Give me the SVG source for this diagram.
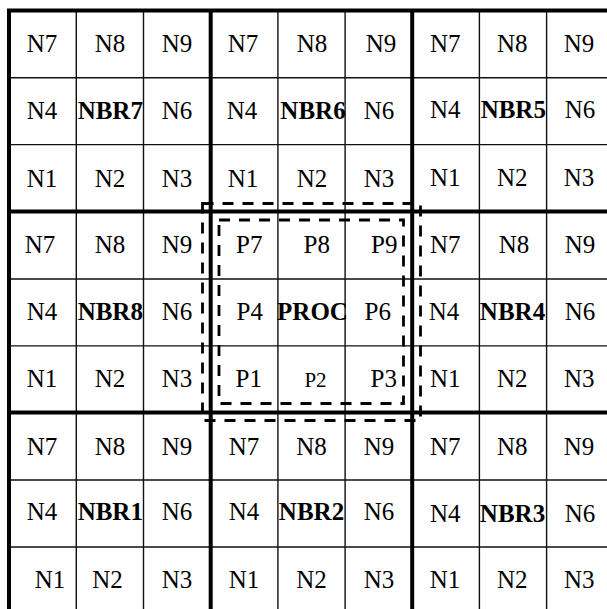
<svg xmlns="http://www.w3.org/2000/svg" width="607" height="609" viewBox="0 0 607 609">
<style>
.t{font-family:"Liberation Serif","Times New Roman",serif;font-size:25px;text-anchor:middle;fill:#000}
.b{font-weight:bold}
.thin{stroke:#111;stroke-width:1.4;fill:none}
.thick{stroke:#000;stroke-width:4;fill:none}
.dash{stroke:#000;stroke-width:2.8;fill:none;stroke-dasharray:11 9}
</style>
<rect width="607" height="609" fill="#fff"/>
<g id="grid">
<path class="thin" d="M76.3 10V609M143.5 10V609M277.9 10V609M345.1 10V609M479.4 10V609M546.6 10V609M9 77.7H607M9 144.6H607M9 279H607M9 345.9H607M9 480H607M9 547H607"/>
<path class="thick" d="M9 8.5V609M210.7 8.5V609M412.2 8.5V609M7 10.5H607M7 211.4H607M7 412.6H607"/>
</g>
<g id="nbr7">
<text class="t" x="42" y="51.7">N7</text><text class="t" x="110" y="51.7">N8</text><text class="t" x="177" y="51.7">N9</text>
<text class="t" x="42" y="119">N4</text><text class="t b" x="110.3" y="119">NBR7</text><text class="t" x="177" y="119">N6</text>
<text class="t" x="42" y="186.5">N1</text><text class="t" x="110" y="186.5">N2</text><text class="t" x="177" y="186.5">N3</text>
</g>
<g id="nbr6">
<text class="t" x="243" y="51.7">N7</text><text class="t" x="312" y="51.7">N8</text><text class="t" x="381" y="51.7">N9</text>
<text class="t" x="242" y="119">N4</text><text class="t b" x="313" y="119">NBR6</text><text class="t" x="379" y="119">N6</text>
<text class="t" x="243" y="186.5">N1</text><text class="t" x="312" y="186.5">N2</text><text class="t" x="379" y="186.5">N3</text>
</g>
<g id="nbr5">
<text class="t" x="445.3" y="51.7">N7</text><text class="t" x="512.3" y="51.7">N8</text><text class="t" x="579" y="51.7">N9</text>
<text class="t" x="445.3" y="118.3">N4</text><text class="t b" x="513.3" y="118.3">NBR5</text><text class="t" x="580" y="118.3">N6</text>
<text class="t" x="445.3" y="185.5">N1</text><text class="t" x="512.3" y="185.5">N2</text><text class="t" x="579" y="185.5">N3</text>
</g>
<g id="nbr8">
<text class="t" x="40" y="253.3">N7</text><text class="t" x="110" y="253.3">N8</text><text class="t" x="177" y="253.3">N9</text>
<text class="t" x="42" y="320">N4</text><text class="t b" x="110.3" y="320">NBR8</text><text class="t" x="177" y="320">N6</text>
<text class="t" x="42" y="386.7">N1</text><text class="t" x="110" y="386.7">N2</text><text class="t" x="177" y="386.7">N3</text>
</g>
<g id="proc">
<text class="t" x="249.3" y="253.3">P7</text><text class="t" x="316.7" y="253.3">P8</text><text class="t" x="384.2" y="253.3">P9</text>
<text class="t" x="249.7" y="320">P4</text><text class="t b" x="312.5" y="320">PROC</text><text class="t" x="377.7" y="320">P6</text>
<text class="t" x="248.8" y="386.7">P1</text><text class="t" x="315.5" y="386.7" style="font-size:21px">P2</text><text class="t" x="383.8" y="386.7">P3</text>
</g>
<g id="nbr4">
<text class="t" x="445.3" y="253.3">N7</text><text class="t" x="514" y="253.3">N8</text><text class="t" x="580" y="253.3">N9</text>
<text class="t" x="444" y="320">N4</text><text class="t b" x="512.5" y="320">NBR4</text><text class="t" x="580" y="320">N6</text>
<text class="t" x="445.3" y="386.7">N1</text><text class="t" x="512.3" y="386.7">N2</text><text class="t" x="579.3" y="386.7">N3</text>
</g>
<g id="nbr1">
<text class="t" x="42" y="455">N7</text><text class="t" x="110" y="455">N8</text><text class="t" x="177" y="455">N9</text>
<text class="t" x="42" y="520">N4</text><text class="t b" x="110.3" y="520">NBR1</text><text class="t" x="177" y="520">N6</text>
<text class="t" x="50" y="588.3">N1</text><text class="t" x="107.5" y="588.3">N2</text><text class="t" x="177" y="588.3">N3</text>
</g>
<g id="nbr2">
<text class="t" x="244" y="455">N7</text><text class="t" x="311.5" y="455">N8</text><text class="t" x="379" y="455">N9</text>
<text class="t" x="244" y="520">N4</text><text class="t b" x="311.5" y="520">NBR2</text><text class="t" x="379" y="520">N6</text>
<text class="t" x="244" y="588.3">N1</text><text class="t" x="311.5" y="588.3">N2</text><text class="t" x="379" y="588.3">N3</text>
</g>
<g id="nbr3">
<text class="t" x="445.3" y="455">N7</text><text class="t" x="512.3" y="455">N8</text><text class="t" x="579" y="455">N9</text>
<text class="t" x="445.3" y="521.7">N4</text><text class="t b" x="512.5" y="521.7">NBR3</text><text class="t" x="580" y="521.7">N6</text>
<text class="t" x="445" y="588.3">N1</text><text class="t" x="512.3" y="588.3">N2</text><text class="t" x="579.3" y="588.3">N3</text>
</g>
<g id="connectors">
<rect class="dash" x="202.5" y="203.5" width="218" height="217"/>
<rect class="dash" x="219" y="220" width="184.5" height="183.5"/>
</g>
</svg>
